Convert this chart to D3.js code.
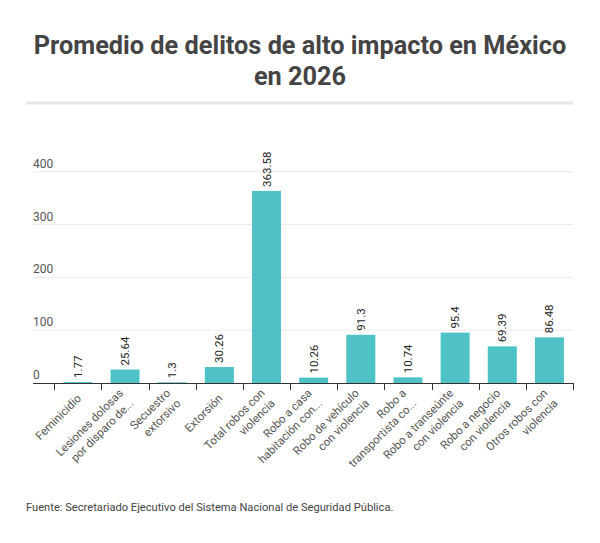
<html>
<head>
  <meta charset="utf-8">
  <script src="https://cdn.jsdelivr.net/npm/d3@7"></script>
  <style>
    body { margin: 0; background: #fff; font-family: Roboto, sans-serif; }
  </style>
</head>
<body>
<div id="chart"></div>
<script>
// categories (x labels, "\n" = line break as in the original)
var categories = [
  'Feminicidio',
  'Lesiones dolosas\npor disparo de...',
  'Secuestro\nextorsivo',
  'Extorsión',
  'Total robos con\nviolencia',
  'Robo a casa\nhabitación con...',
  'Robo de vehículo\ncon violencia',
  'Robo a\ntransportista co...',
  'Robo a transeúnte\ncon violencia',
  'Robo a negocio\ncon violencia',
  'Otros robos con\nviolencia'
]
var values = [1.77, 25.64, 1.3, 30.26, 363.58, 10.26, 91.3, 10.74, 95.4, 69.39, 86.48]
var yTicks = [0, 100, 200, 300, 400]

var title = ['Promedio de delitos de alto impacto en México', 'en 2026']
var source = 'Fuente: Secretariado Ejecutivo del Sistema Nacional de Seguridad Pública.'

var W = 600, H = 543
var svg = d3.select('#chart').append('svg')
  .attr('width', W).attr('height', H)

// title
svg.append('g').selectAll('text')
  .data(title)
  .enter().append('text')
  .attr('x', 300)
  .attr('y', function (d, i) { return 54 + i * 31 })
  .attr('text-anchor', 'middle')
  .attr('font-size', 25.3)
  .attr('font-weight', 700)
  .attr('fill', '#444')
  .text(function (d) { return d })

svg.append('rect')
  .attr('x', 26).attr('y', 101.5)
  .attr('width', 547).attr('height', 3)
  .attr('fill', '#e6e6e6')

var x = d3.scaleBand()
  .domain(categories)
  .range([54.3, 573])
  .paddingInner(0.385)
  .paddingOuter(0.1925)

var y = d3.scaleLinear()
  .domain([0, 400])
  .range([383, 171.7])

// grid + y labels
var grid = svg.append('g')
grid.selectAll('line')
  .data(yTicks.filter(function (d) { return d > 0 }))
  .enter().append('line')
  .attr('x1', 33).attr('x2', 573)
  .attr('y1', function (d) { return y(d) })
  .attr('y2', function (d) { return y(d) })
  .attr('stroke', '#ebebeb')
  .attr('stroke-width', 1)

grid.selectAll('text')
  .data(yTicks)
  .enter().append('text')
  .attr('x', 33)
  .attr('y', function (d) { return y(d) - 4 })
  .attr('font-size', 12)
  .attr('fill', '#555')
  .text(function (d) { return d })

// bars
svg.append('g').selectAll('rect')
  .data(values)
  .enter().append('rect')
  .attr('x', function (d, i) { return x(categories[i]) })
  .attr('y', function (d) { return y(d) })
  .attr('width', x.bandwidth())
  .attr('height', function (d) { return y(0) - y(d) })
  .attr('fill', '#4fc2c8')

// value labels
svg.append('g').selectAll('text')
  .data(values)
  .enter().append('text')
  .attr('transform', function (d, i) {
    var cx = x(categories[i]) + x.bandwidth() / 2
    return 'translate(' + cx + ',' + (y(d) - 4) + ') rotate(-90)'
  })
  .attr('dy', '0.35em')
  .attr('font-size', 11.5)
  .attr('fill', '#222')
  .text(function (d) { return d })

// x axis line + ticks
var axis = svg.append('g')
axis.append('line')
  .attr('x1', 33).attr('x2', 573.5)
  .attr('y1', 383.5).attr('y2', 383.5)
  .attr('stroke', '#333').attr('stroke-width', 1)

axis.selectAll('.tick')
  .data(d3.range(categories.length + 1))
  .enter().append('line')
  .attr('class', 'tick')
  .attr('x1', function (i) { return Math.round(x.range()[0] + i * x.step()) + 0.5 })
  .attr('x2', function (i) { return Math.round(x.range()[0] + i * x.step()) + 0.5 })
  .attr('y1', 383).attr('y2', 390)
  .attr('stroke', '#333').attr('stroke-width', 1)

// x labels, rotated -45
var lh = 14.5
var lbl = axis.selectAll('.xlabel')
  .data(categories)
  .enter().append('text')
  .attr('class', 'xlabel')
  .attr('transform', function (d) {
    var cx = x(d) + x.bandwidth() / 2
    return 'translate(' + (cx + 4) + ',' + 399 + ') rotate(-45)'
  })
  .attr('text-anchor', 'end')
  .attr('font-size', 11.5)
  .attr('fill', '#555')

lbl.each(function (d) {
  var lines = d.split('\n')
  var t = d3.select(this)
  lines.forEach(function (ln, j) {
    t.append('tspan')
      .attr('x', 0)
      .attr('y', (j - (lines.length - 1) / 2) * lh)
      .text(ln)
  })
})

// source
svg.append('text')
  .attr('x', 26).attr('y', 511)
  .attr('font-size', 11.15)
  .attr('fill', '#444')
  .text(source)
</script>
</body>
</html>
